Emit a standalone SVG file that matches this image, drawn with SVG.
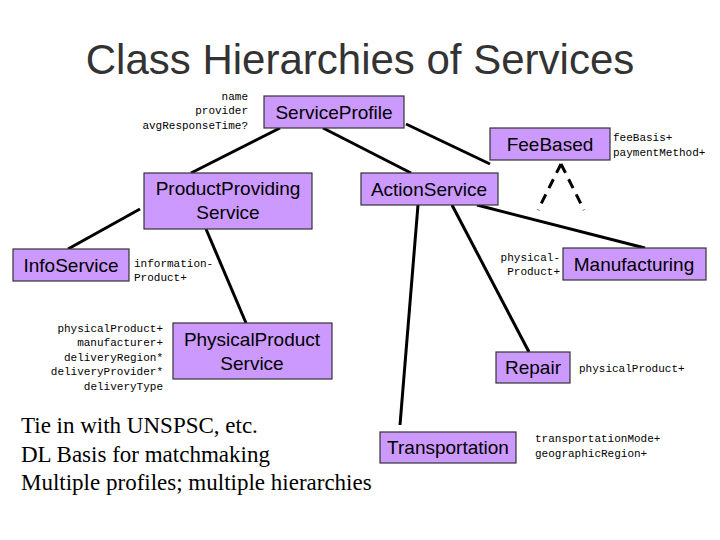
<svg xmlns="http://www.w3.org/2000/svg" width="720" height="540" viewBox="0 0 720 540">
<style>
.n{fill:#cc99ff;stroke:#333;stroke-width:1.2}
.t{font-family:"Liberation Sans",Arial,sans-serif;font-size:19px;fill:#000;text-anchor:middle}
.m{font-family:"Liberation Mono","Courier New",monospace;font-size:11px;fill:#000}
.c line{stroke:#000;stroke-width:3}
</style>
<rect width="720" height="540" fill="#fff"/>
<text x="360" y="74" font-family="Liberation Sans,Arial,sans-serif" font-size="42" fill="#333" text-anchor="middle">Class Hierarchies of Services</text>
<g class="c" id="connectors">
<line x1="406" y1="124" x2="490" y2="164"/>
<line x1="280" y1="128" x2="191" y2="173"/>
<line x1="323" y1="128" x2="411" y2="173"/>
<line x1="140" y1="209" x2="68" y2="249"/>
<line x1="206" y1="229" x2="246" y2="323"/>
<line x1="477" y1="205" x2="645" y2="248"/>
<line x1="452" y1="205" x2="529" y2="352"/>
<line x1="418" y1="205" x2="400" y2="425"/>
<line x1="561" y1="164" x2="538" y2="210" stroke-dasharray="10,7"/>
<line x1="561" y1="164" x2="584" y2="210" stroke-dasharray="10,7"/>
</g>
<g id="ServiceProfile"><rect class="n" x="264" y="96" width="140" height="32"/><text class="t" x="334" y="119">ServiceProfile</text></g>
<g id="FeeBased"><rect class="n" x="490" y="128" width="120" height="32"/><text class="t" x="550" y="151">FeeBased</text></g>
<g id="ProductProviding"><rect class="n" x="144" y="173" width="168" height="56"/><text class="t" x="228" y="195">ProductProviding</text><text class="t" x="228" y="219">Service</text></g>
<g id="ActionService"><rect class="n" x="361" y="173" width="137" height="32"/><text class="t" x="429" y="196">ActionService</text></g>
<g id="InfoService"><rect class="n" x="13" y="249" width="116" height="32"/><text class="t" x="71" y="272">InfoService</text></g>
<g id="Manufacturing"><rect class="n" x="563" y="248" width="143" height="32"/><text class="t" x="634" y="271">Manufacturing</text></g>
<g id="PhysicalProduct"><rect class="n" x="173" y="323" width="159" height="56"/><text class="t" x="252" y="346">PhysicalProduct</text><text class="t" x="252" y="370">Service</text></g>
<g id="Repair"><rect class="n" x="496" y="352" width="74" height="31"/><text class="t" x="533" y="374">Repair</text></g>
<g id="Transportation"><rect class="n" x="380" y="432" width="136" height="31"/><text class="t" x="448" y="454">Transportation</text></g>
<g class="m">
<text x="248" y="100" text-anchor="end">name</text>
<text x="248" y="114" text-anchor="end">provider</text>
<text x="248" y="129" text-anchor="end">avgResponseTime?</text>
<text x="613" y="141">feeBasis+</text>
<text x="613" y="156">paymentMethod+</text>
<text x="134" y="267">information-</text>
<text x="134" y="281">Product+</text>
<text x="560" y="261" text-anchor="end">physical-</text>
<text x="560" y="275" text-anchor="end">Product+</text>
<text x="163" y="332" text-anchor="end">physicalProduct+</text>
<text x="163" y="346" text-anchor="end">manufacturer+</text>
<text x="163" y="361" text-anchor="end">deliveryRegion*</text>
<text x="163" y="375" text-anchor="end">deliveryProvider*</text>
<text x="163" y="390" text-anchor="end">deliveryType</text>
<text x="579" y="372">physicalProduct+</text>
<text x="535" y="442">transportationMode+</text>
<text x="535" y="457">geographicRegion+</text>
</g>
<g font-family="Liberation Serif,Times New Roman,serif" font-size="23" fill="#000">
<text x="21" y="433">Tie in with UNSPSC, etc.</text>
<text x="21" y="462">DL Basis for matchmaking</text>
<text x="21" y="490">Multiple profiles; multiple hierarchies</text>
</g>
</svg>
